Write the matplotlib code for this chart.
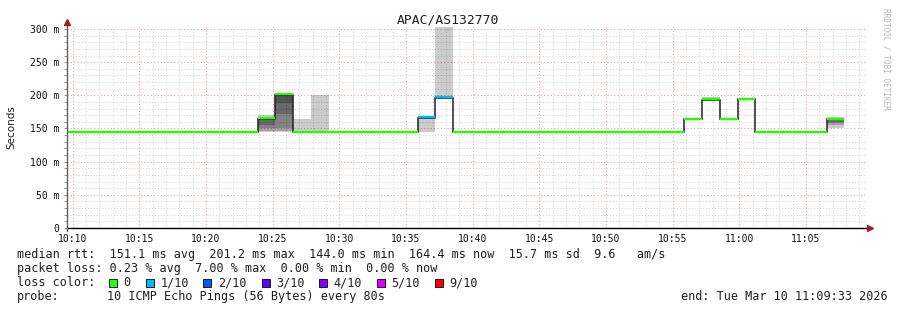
import matplotlib
matplotlib.use('Agg')
import matplotlib.pyplot as plt
from matplotlib.patches import Rectangle
from datetime import datetime, timedelta

W, H = 897, 310

# time window and probe rounds (80 s each)
start = datetime(2026, 3, 10, 10, 9, 33)
end = datetime(2026, 3, 10, 11, 9, 33)
first_round = datetime(2026, 3, 10, 10, 9, 13)
step = 80

# median rtt per round (ms)
median = [144, 144, 144, 144, 144, 144, 144, 144, 144, 144, 144,
          165, 201,
          144, 144, 144, 144, 144, 144, 144,
          166, 196,
          144, 144, 144, 144, 144, 144, 144, 144, 144, 144, 144, 144, 144,
          164, 193, 164, 194,
          144, 144, 144, 144,
          164]
# lost pings per round (out of 10)
lost = [0, 0, 0, 0, 0, 0, 0, 0, 0, 0, 0,
        0, 0,
        0, 0, 0, 0, 0, 0, 0,
        1, 1,
        0, 0, 0, 0, 0, 0, 0, 0, 0, 0, 0, 0, 0,
        0, 0, 0, 0,
        0, 0, 0, 0,
        0]

# rounds with visible smoke, and their individual ping times (ms)
smoke_rounds = [11, 12, 13, 14, 20, 21, 36, 43]
smoke_pings = [
    [145, 146, 150, 156, 164, 165, 166, 167, 168, 170],
    [144, 146, 150, 172, 188, 200, 201, 202, 203, 204],
    [144, 144, 144, 144, 144, 144, 144, 144, 144, 165],
    [144, 144, 144, 144, 144, 144, 144, 144, 144, 200],
    [144, 165, 166, 166, 166, 166, 166, 167, 168],
    [195, 196, 196, 196, 196, 196, 197, 198, 310],
    [192, 193, 193, 193, 193, 193, 193, 194, 195, 197],
    [150, 155, 158, 160, 163, 164, 165, 165, 166, 167],
]

loss_labels = ['0', '1/10', '2/10', '3/10', '4/10', '5/10', '9/10']
loss_colors = ['#26ff00', '#00b8ff', '#0059ff', '#5e00ff', '#7e00ff', '#dd00ff', '#ff0000']
loss_index = {0: 0, 1: 1, 2: 2, 3: 3, 4: 4, 5: 5, 9: 6}

stats_line = "median rtt:  151.1 ms avg  201.2 ms max  144.0 ms min  164.4 ms now  15.7 ms sd  9.6   am/s"
loss_line = "packet loss: 0.23 % avg  7.00 % max  0.00 % min  0.00 % now"
probe_line = "10 ICMP Echo Pings (56 Bytes) every 80s"

mono = 'DejaVu Sans Mono'

fig = plt.figure(figsize=(W / 100, H / 100), dpi=100)
fig.patch.set_facecolor('white')
ax = fig.add_axes([66.5 / W, (H - 228) / H, 800 / W, 201 / H])

t0 = (first_round - start).total_seconds()
edges = [t0 + i * step for i in range(len(median) + 1)]
total = (end - start).total_seconds()

# smoke
for r, pings in zip(smoke_rounds, smoke_pings):
    p = sorted(pings)
    n = len(p)
    for i in range(n // 2):
        ax.fill_between([edges[r], edges[r + 1]], p[i], p[n - 1 - i],
                        color='black', alpha=0.2, lw=0)

# median line
ax.stairs(median, edges, baseline=None, color='#202020', lw=1.1)
for i, m in enumerate(median):
    ax.hlines(m + 0.8, edges[i], edges[i + 1],
              color=loss_colors[loss_index[lost[i]]], lw=1.7)

ax.set_xlim(0, total)
ax.set_ylim(0, 303)

# ticks and grid
first_tick = (datetime(2026, 3, 10, 10, 10) - start).total_seconds()
major = [first_tick + 300 * j for j in range(12)]
minor = [first_tick + 60 * j for j in range(60)]
ax.set_xticks(major)
ax.set_xticklabels([(start + timedelta(seconds=s)).strftime('%H:%M') for s in major],
                   fontfamily=mono, fontsize=7)
ax.set_xticks(minor, minor=True)
ax.set_yticks(range(0, 301, 50))
ax.set_yticklabels(['0'] + ['%d m' % v for v in range(50, 301, 50)],
                   fontfamily=mono, fontsize=7)
ax.set_yticks(range(0, 301, 10), minor=True)
ax.tick_params(axis='x', which='both', length=0, pad=4, colors='#101010')
ax.tick_params(axis='y', which='both', length=2, width=0.6, color='#808080',
               labelcolor='#101010', pad=3)
ax.grid(which='minor', color='#d0d0d0', ls=(0, (1, 2)), lw=0.7)
ax.grid(which='major', color='#eca0a0', ls=(0, (1, 2)), lw=0.8)
ax.set_axisbelow(True)
for s in ax.spines.values():
    s.set_visible(False)

# axes lines with arrows
ax.plot([0, 1.004], [0, 0], color='black', lw=1.0, transform=ax.transAxes, clip_on=False)
ax.plot([0, 0], [-0.015, 1.025], color='#606060', lw=1.0, transform=ax.transAxes, clip_on=False)
ax.plot([1.004], [0], marker='>', ms=4, color='#a02020', transform=ax.transAxes, clip_on=False)
ax.plot([0], [1.027], marker='^', ms=4, color='#a02020', transform=ax.transAxes, clip_on=False)

ax.set_ylabel('Seconds', fontsize=7.5, color='#202020', va='center')
ax.yaxis.set_label_coords(-55.5 / 800, 0.5)


def fx(x):
    return x / W


def fy(y):
    return 1 - y / H


fig.text(fx(447.5), fy(20), 'APAC/AS132770', family=mono, fontsize=9.4,
         ha='center', va='center', color='#202020')
fig.text(fx(886), fy(59), 'RRDTOOL / TOBI OETIKER', family=mono, fontsize=5.6,
         rotation=270, ha='center', va='center', color='#b8b8b8')

fs = 8.5
fig.text(fx(16.5), fy(254.5), stats_line, family=mono, fontsize=fs, va='center', color='#202020')
fig.text(fx(16.5), fy(268.3), loss_line, family=mono, fontsize=fs, va='center', color='#202020')
fig.text(fx(16.5), fy(282.5), 'loss color:', family=mono, fontsize=fs, va='center', color='#202020')
box_x = [108.7, 146, 203.3, 261.7, 319.3, 376.7, 435]
for bx, lab, col in zip(box_x, loss_labels, loss_colors):
    fig.patches.append(Rectangle((fx(bx), fy(286.5)), 8 / W, 8 / H, transform=fig.transFigure,
                                 facecolor=col, edgecolor='black', lw=0.6))
    fig.text(fx(bx + 14.5), fy(282.5), lab, family=mono, fontsize=fs, va='center', color='#202020')
fig.text(fx(16.5), fy(296.5), 'probe:', family=mono, fontsize=fs, va='center', color='#202020')
fig.text(fx(107.3), fy(296.5), probe_line, family=mono, fontsize=fs, va='center', color='#202020')
fig.text(fx(888), fy(296.5), 'end: ' + end.strftime('%a %b %d %H:%M:%S %Y'),
         family=mono, fontsize=fs, va='center', ha='right', color='#202020')

fig.savefig('out.png', dpi=100)
